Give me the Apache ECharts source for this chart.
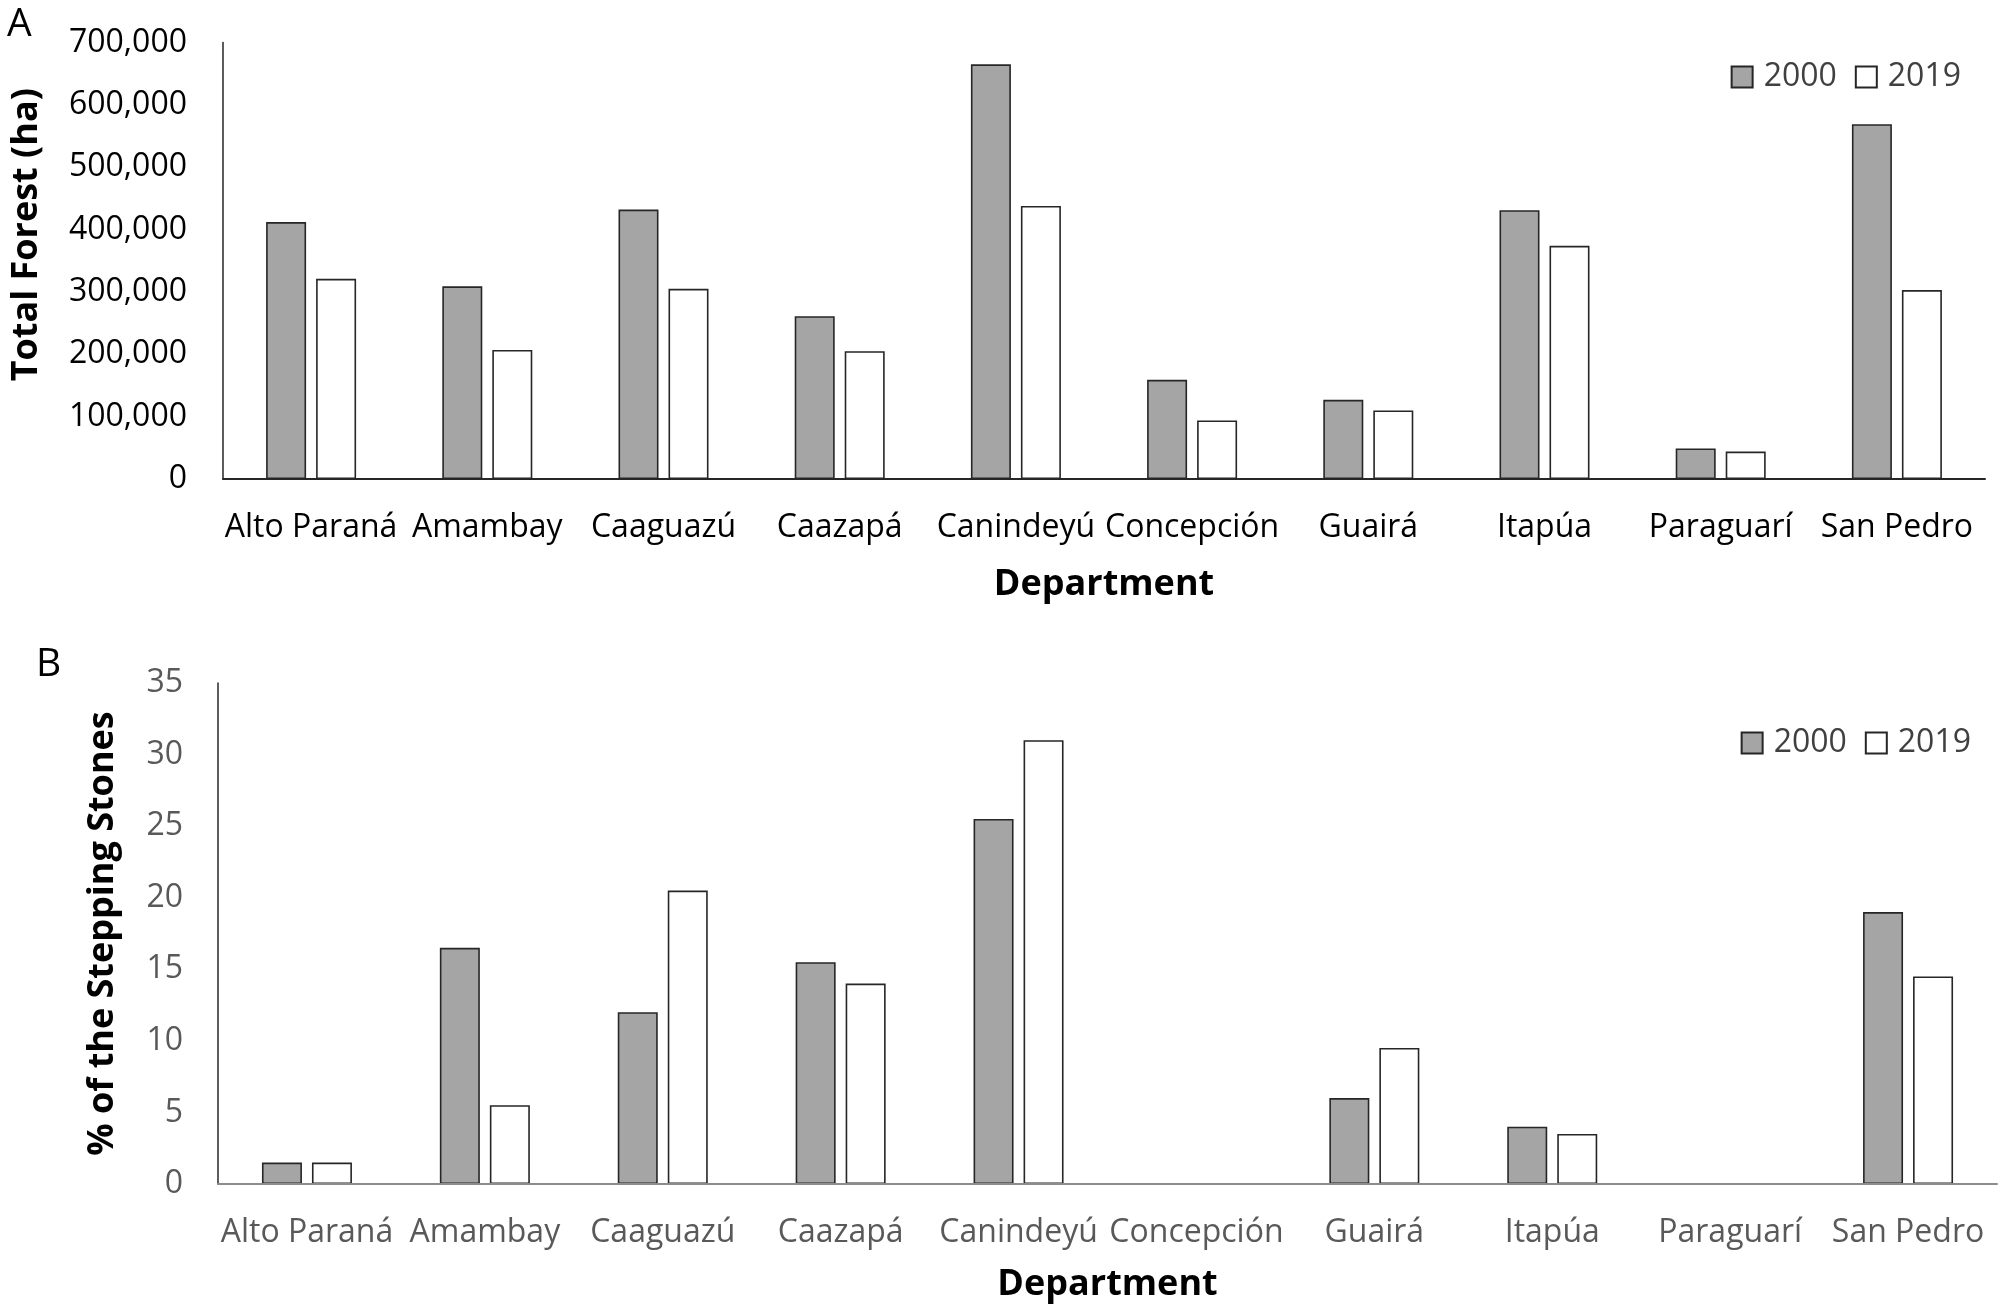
<!DOCTYPE html>
<html>
<head>
<meta charset="utf-8">
<script src="https://cdn.jsdelivr.net/npm/echarts@6/dist/echarts.min.js"></script>
<style>
html,body{margin:0;padding:0;background:#fff;}
#chart{width:2012px;height:1312px;}
</style>
</head>
<body>
<div id="chart"></div>
<script>
const departments = ['Alto Paraná','Amambay','Caaguazú','Caazapá','Canindeyú','Concepción','Guairá','Itapúa','Paraguarí','San Pedro'];
const forest2000 = [412000, 309000, 432000, 261000, 665000, 159000, 127000, 431000, 49000, 569000];
const forest2019 = [321000, 207000, 305000, 205000, 438000, 94000, 110000, 374000, 44000, 303000];
const stones2000 = [1.5, 16.5, 12, 15.5, 25.5, 0, 6, 4, 0, 19];
const stones2019 = [1.5, 5.5, 20.5, 14, 31, 0, 9.5, 3.5, 0, 14.5];
const seriesNames = ['2000','2019'];

const FONT = "'Open Sans', 'Noto Sans', sans-serif";
const grayStyle = {color:'#a5a5a5', borderColor:'#262626', borderWidth:1.6};
const whiteStyle = {color:'#ffffff', borderColor:'#262626', borderWidth:1.6};

const chart = echarts.init(document.getElementById('chart'));
chart.setOption({
  animation:false,
  backgroundColor:'#fff',
  textStyle:{fontFamily:FONT},
  title:[
    {text:'A', left:2, top:0, textStyle:{fontFamily:FONT, fontSize:39, fontWeight:'normal', color:'#000'}},
    {text:'B', left:31, top:640, textStyle:{fontFamily:FONT, fontSize:39, fontWeight:'normal', color:'#000'}}
  ],
  legend:[
    {data:seriesNames, right:46, top:56, itemWidth:21, itemHeight:21, itemGap:18, icon:'rect',
     textStyle:{fontFamily:FONT, fontSize:32, color:'#404040', padding:[0,0,0,6]}},
    {data:seriesNames.map(n=>n+' '), right:36, top:722, itemWidth:21, itemHeight:21, itemGap:18, icon:'rect',
     formatter:n=>n.trim(),
     textStyle:{fontFamily:FONT, fontSize:32, color:'#404040', padding:[0,0,0,6]}}
  ],
  grid:[
    {left:223, right:27, top:42.5, bottom:833, containLabel:false},
    {left:218, right:15, top:683, bottom:128, containLabel:false}
  ],
  xAxis:[
    {type:'category', gridIndex:0, data:departments, z:5,
     axisLine:{lineStyle:{color:'#262626', width:2}}, axisTick:{show:false},
     axisLabel:{interval:0, margin:33, fontSize:32, color:'#000', fontFamily:FONT},
     name:'Department', nameLocation:'middle', nameGap:88,
     nameTextStyle:{fontSize:36, fontWeight:'bold', color:'#000', fontFamily:FONT}},
    {type:'category', gridIndex:1, data:departments, z:5,
     axisLine:{lineStyle:{color:'#8c8c8c', width:2}}, axisTick:{show:false},
     axisLabel:{interval:0, margin:33, fontSize:32, color:'#595959', fontFamily:FONT},
     name:'Department', nameLocation:'middle', nameGap:83,
     nameTextStyle:{fontSize:36, fontWeight:'bold', color:'#000', fontFamily:FONT}}
  ],
  yAxis:[
    {type:'value', gridIndex:0, min:0, max:700000, interval:100000,
     splitLine:{show:false}, axisTick:{show:false},
     axisLine:{show:true, lineStyle:{color:'#262626', width:1.5}},
     axisLabel:{margin:36, fontSize:32, color:'#000', fontFamily:FONT,
       formatter:v=>v.toLocaleString('en-US')},
     name:'Total Forest (ha)', nameLocation:'middle', nameRotate:90, nameGap:178,
     nameTextStyle:{fontSize:36, fontWeight:'bold', color:'#000', fontFamily:FONT, padding:[0,0,0,52]}},
    {type:'value', gridIndex:1, min:0, max:35, interval:5,
     splitLine:{show:false}, axisTick:{show:false},
     axisLine:{show:true, lineStyle:{color:'#262626', width:1.5}},
     axisLabel:{margin:35, fontSize:32, color:'#595959', fontFamily:FONT},
     name:'% of the Stepping Stones', nameLocation:'middle', nameRotate:90, nameGap:97,
     nameTextStyle:{fontSize:36, fontWeight:'bold', color:'#000', fontFamily:FONT}}
  ],
  series:[
    {name:'2000', type:'bar', xAxisIndex:0, yAxisIndex:0, data:forest2000, barWidth:40, barGap:'25%', itemStyle:grayStyle},
    {name:'2019', type:'bar', xAxisIndex:0, yAxisIndex:0, data:forest2019, barWidth:40, barGap:'25%', itemStyle:whiteStyle},
    {name:'2000 ', type:'bar', xAxisIndex:1, yAxisIndex:1, data:stones2000, barWidth:40, barGap:'25%', itemStyle:grayStyle},
    {name:'2019 ', type:'bar', xAxisIndex:1, yAxisIndex:1, data:stones2019, barWidth:40, barGap:'25%', itemStyle:whiteStyle}
  ]
});
</script>
</body>
</html>
